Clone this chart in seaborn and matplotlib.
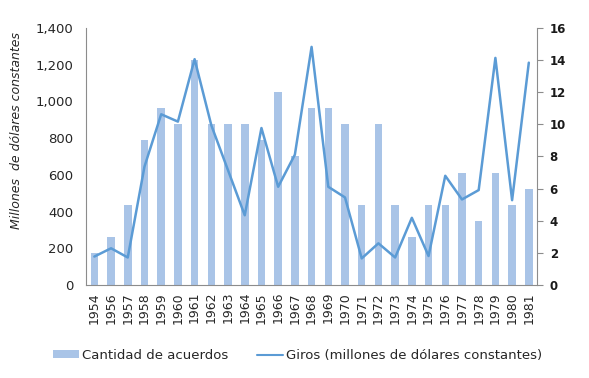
import numpy as np
import pandas as pd
import matplotlib
matplotlib.use("Agg")
import matplotlib.pyplot as plt
import seaborn as sns
from matplotlib.patches import Patch
from matplotlib.lines import Line2D

sns.set_style("white")
plt.rcParams['font.family'] = ['DejaVu Sans']

years = ['1954', '1956', '1957', '1958', '1959', '1960', '1961', '1962', '1963',
         '1964', '1965', '1966', '1967', '1968', '1969', '1970', '1971', '1972',
         '1973', '1974', '1975', '1976', '1977', '1978', '1979', '1980', '1981']
acuerdos = [2, 3, 5, 9, 11, 10, 14, 10, 10, 10, 9, 12, 8, 11, 11, 10, 5, 10,
            5, 3, 5, 5, 7, 4, 7, 5, 6]
giros = [155, 200, 150, 645, 930, 890, 1230, 870, 625, 380, 855, 535, 710,
         1297, 535, 477, 145, 227, 150, 366, 158, 595, 466, 517, 1237, 462, 1211]

df = pd.DataFrame({'year': years, 'acuerdos': acuerdos, 'giros': giros})

bar_color = '#a9c4e7'
line_color = '#5b9bd5'
grey = '#8c8c8c'
text_color = '#262626'

fig = plt.figure(figsize=(5.89, 3.78), dpi=100)
ax = fig.add_axes([0.146, 0.246, 0.766, 0.68])
ax2 = ax.twinx()

# bars (counts) on the right axis, line (millions) on the left axis
sns.barplot(data=df, x='year', y='acuerdos', color=bar_color, width=0.45,
            saturation=1, linewidth=0, ax=ax2)
sns.lineplot(x=np.arange(len(years)), y=df['giros'], color=line_color,
             linewidth=1.8, ax=ax)

ax.set_zorder(ax2.get_zorder() + 1)
ax.patch.set_visible(False)

ax.set_xlim(-0.5, len(years) - 0.5)
ax.set_ylim(0, 1400)
ax.set_yticks(range(0, 1401, 200))
ax.set_yticklabels([f'{v:,}' for v in range(0, 1401, 200)])
ax.set_xticks(np.arange(len(years)))
ax.set_xticklabels(years, rotation=90)
ax2.set_ylim(0, 16)
ax2.set_yticks(range(0, 17, 2))
ax2.set_xlabel('')
ax2.set_ylabel('')
ax.set_xlabel('')
ax.set_ylabel('Millones  de dólares constantes', fontstyle='italic',
              fontsize=9, color=text_color)
ax.yaxis.set_label_coords(-0.14, 0.6)

for a in (ax, ax2):
    a.spines['top'].set_visible(False)
    for s in ('left', 'right', 'bottom'):
        a.spines[s].set_color(grey)
        a.spines[s].set_linewidth(0.8)
ax2.spines['left'].set_visible(False)
ax.spines['right'].set_visible(False)
ax2.spines['bottom'].set_visible(False)

ax.tick_params(axis='y', labelsize=9.5, length=0, pad=9, labelcolor=text_color)
ax.tick_params(axis='x', labelsize=9, length=0, pad=5, labelcolor=text_color)
ax2.tick_params(axis='y', labelsize=8.5, length=4, color=grey, direction='out',
                right=True, pad=5, labelcolor='#1a1a1a')
for lbl in ax2.get_yticklabels():
    lbl.set_fontweight('bold')

handles = [Patch(facecolor=bar_color, edgecolor='none'),
           Line2D([0], [0], color=line_color, linewidth=1.5)]
fig.legend(handles, ['Cantidad de acuerdos', 'Giros (millones de dólares constantes)'],
           loc='center', bbox_to_anchor=(0.505, 0.06), ncol=2, frameon=False,
           fontsize=9.5, handlelength=2.0, handleheight=0.5, handletextpad=0.2,
           columnspacing=2.2, labelcolor=text_color)

fig.savefig('out.png', dpi=100)
